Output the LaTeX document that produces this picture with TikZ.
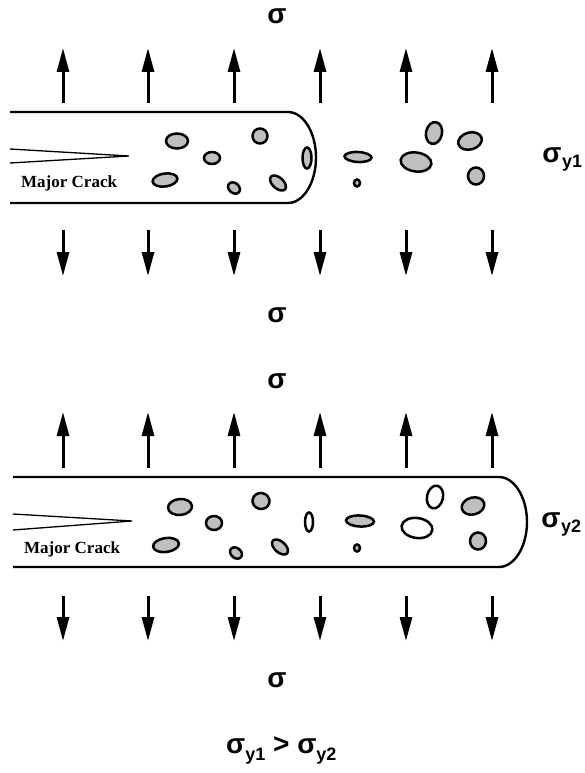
\documentclass[tikz,border=0pt]{standalone}
\usepackage{fontspec}
\newfontfamily\labelfont{Liberation Sans}
\newfontfamily\crackfont{Liberation Serif}
\usetikzlibrary{arrows.meta}

\tikzset{
  bar/.style={line width=2.4pt, line join=round},
  crackline/.style={line width=1.3pt},
  stressarrow/.style={line width=3pt, -{Triangle[length=24pt, width=12pt]}},
  pore/.style={line width=2.5pt, fill=black!25},
  clearpore/.style={line width=2.5pt, fill=white},
  sig/.style={font=\labelfont\bfseries\fontsize{28}{30}\selectfont, inner sep=0pt},
  sub/.style={font=\labelfont\bfseries\fontsize{18}{20}\selectfont, inner sep=0pt, anchor=west},
  cracklabel/.style={font=\crackfont\bfseries\fontsize{17}{19}\selectfont, inner sep=0pt, anchor=west},
}

% a pore: #1 centre, #2 x radius, #3 y radius, #4 angle, #5 style
\newcommand{\poreat}[5]{%
  \draw[#5, rotate around={#4:(#1)}] (#1) ellipse [x radius=#2pt, y radius=#3pt];}

\begin{document}
\begin{tikzpicture}[x=1pt, y=-1pt]
\useasboundingbox (0,0) rectangle (585,773);

% ---------- upper specimen: crack tip zone ahead of the specimen ----------
\node[sig] (s1) at (277,16) {σ};
\foreach \i/\x in {1/63,2/148,3/234,4/320,5/406,6/492}{
  \coordinate (ua\i) at (\x,103); \coordinate (ub\i) at (\x,48);
  \draw[stressarrow] (ua\i) -- (ub\i);
  \coordinate (da\i) at (\x,230); \coordinate (db\i) at (\x,276);
  \draw[stressarrow] (da\i) -- (db\i);
}
\draw[bar] (10,112) -- (288,112)
  .. controls (303.4,112) and (316,132.5) .. (316,157.5)
  .. controls (316,182.5) and (303.4,203) .. (288,203) -- (10,203);
\coordinate (c1a) at (10,149); \coordinate (c1b) at (10,163);
\coordinate (c1t) at (129,156);
\draw[crackline] (c1a) -- (c1t) -- (c1b);
\node[cracklabel] (mc1) at (21,183) {Major Crack};
\node[sig] (sy1) at (552,155) {σ};
\node[sub] (sy1sub) at (562,163) {y1};

\poreat{177,141}{11}{7.5}{0}{pore}
\poreat{165,180}{12.5}{6.5}{8}{pore}
\poreat{212,158}{8}{6}{0}{pore}
\poreat{260,136}{7.5}{7.5}{0}{pore}
\poreat{234,188}{6.5}{5}{-40}{pore}
\poreat{278,183}{9.5}{5.5}{-42}{pore}
\poreat{307,158}{4.5}{10.5}{0}{pore}
\poreat{358,157}{13.5}{5}{-3}{pore}
\poreat{357,183}{3}{3.5}{0}{pore}
\poreat{416,162}{15.5}{9.5}{-8}{pore}
\poreat{434,133}{8}{11}{-12}{pore}
\poreat{470,141}{12}{8.5}{15}{pore}
\poreat{476,176}{8}{8.5}{0}{pore}

\node[sig] (s2) at (277,315) {σ};

% ---------- lower specimen: pores contained in the specimen ----------
\node[sig] (s3) at (277,381) {σ};
\foreach \i/\x in {1/63,2/148,3/234,4/320,5/406,6/492}{
  \coordinate (va\i) at (\x,468); \coordinate (vb\i) at (\x,412);
  \draw[stressarrow] (va\i) -- (vb\i);
  \coordinate (wa\i) at (\x,596); \coordinate (wb\i) at (\x,641);
  \draw[stressarrow] (wa\i) -- (wb\i);
}
\draw[bar] (13,477) -- (499,477)
  .. controls (514.4,477) and (527,497.5) .. (527,522)
  .. controls (527,546.5) and (514.4,567) .. (499,567) -- (13,567);
\coordinate (c2a) at (13,514); \coordinate (c2b) at (13,530);
\coordinate (c2t) at (132,521);
\draw[crackline] (c2a) -- (c2t) -- (c2b);
\node[cracklabel] (mc2) at (24,549) {Major Crack};
\node[sig] (sy2) at (551,520) {σ};
\node[sub] (sy2sub) at (561,528) {y2};

\poreat{180,507}{12}{8}{5}{pore}
\poreat{166,545}{13}{7}{8}{pore}
\poreat{214,523}{8}{7}{0}{pore}
\poreat{261,501}{8.5}{8}{-10}{pore}
\poreat{236,553}{6.5}{5}{-40}{pore}
\poreat{280,547}{9.5}{5.5}{-42}{pore}
\poreat{309,522}{4}{9.5}{0}{clearpore}
\poreat{360,521}{14}{5.5}{-3}{pore}
\poreat{357,548}{3}{3.5}{0}{pore}
\poreat{417,528}{15.5}{10}{-8}{clearpore}
\poreat{435,497}{8}{11.5}{-12}{clearpore}
\poreat{473,506}{11.5}{8.5}{15}{pore}
\poreat{478,541}{8}{8.5}{0}{pore}

\node[sig] (s4) at (277,680) {σ};

% ---------- comparison of yield strengths ----------
\node[sig, anchor=west] (cmp) at (226,750)
  {σ\raisebox{-7pt}{\fontsize{18}{20}\selectfont y1} > σ\raisebox{-7pt}{\fontsize{18}{20}\selectfont y2}};
\end{tikzpicture}
\end{document}
